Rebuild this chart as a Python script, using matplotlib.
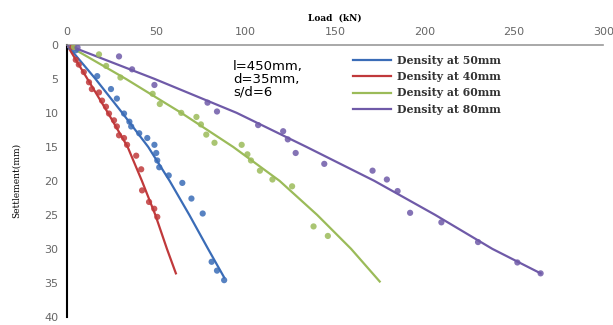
import numpy as np
import matplotlib.pyplot as plt

# Measured points (load kN, settlement mm)
load_50 = [0, 2, 5, 17, 24.7, 28, 32, 35, 36, 40.5, 45, 49, 50, 50.6, 51.7, 57, 64.6, 69.7, 76, 81, 84, 88]
sett_50 = [0, 0.3, 0.8, 4.6, 6.5, 7.9, 10.1, 11.3, 12, 13, 13.7, 14.7, 15.9, 17, 18, 19.2, 20.3, 22.6, 24.8, 31.9, 33.2, 34.6]

load_40 = [0, 3, 5, 6.7, 9.5, 12.4, 14, 18, 19.7, 21.9, 23.6, 26.4, 28, 29.2, 32, 33.7, 38.8, 41.6, 42.1, 46, 48.9, 50.6]
sett_40 = [0, 0.3, 2.2, 2.9, 4, 5.5, 6.5, 7, 8.2, 9.1, 10.1, 11.1, 12, 13.3, 13.7, 14.7, 16.3, 18.3, 21.4, 23.1, 24.1, 25.3]

load_60 = [0, 4, 18, 22, 30, 48, 52, 64, 72.5, 75, 78, 82.6, 97.8, 101, 103, 108, 115, 126, 138, 146]
sett_60 = [0, 0.3, 1.4, 3.1, 4.8, 7.2, 8.7, 10, 10.6, 11.7, 13.2, 14.4, 14.7, 16.1, 17, 18.5, 19.8, 20.8, 26.7, 28.1]

load_80 = [0, 6, 29.2, 36.5, 49, 78.7, 84, 107, 121, 123.6, 128, 144, 171, 179, 185, 192, 209.5, 230, 252, 265]
sett_80 = [0, 0.4, 1.7, 3.6, 5.9, 8.5, 9.8, 11.8, 12.7, 13.9, 15.9, 17.5, 18.5, 19.8, 21.5, 24.7, 26.1, 29, 32, 33.6]

# Trend lines
trend_50_x = [0, 16, 31, 45.5, 57.5, 68.5, 79, 88]
trend_50_y = [0, 5, 10, 15, 20, 25, 30, 34.2]
trend_40_x = [0, 11.5, 23, 34, 42, 49.5, 56, 61]
trend_40_y = [0, 5, 10, 15, 20, 25, 30, 33.6]
trend_60_x = [0, 33, 64, 93, 119, 140, 159, 175]
trend_60_y = [0, 5, 10, 15, 20, 25, 30, 34.8]
trend_80_x = [0, 49, 95, 134, 172, 206, 238, 265]
trend_80_y = [0, 5, 10, 15, 20, 25, 30, 33.6]

labels = ["Density at 50mm", "Density at 40mm", "Density at 60mm", "Density at 80mm"]
colors = ["#3a6cb7", "#c0393b", "#9bbb59", "#6f5aa8"]

x_ticks = [0, 50, 100, 150, 200, 250, 300]
y_ticks = [0, 5, 10, 15, 20, 25, 30, 35, 40]

fig = plt.figure(figsize=(6.13, 3.25), dpi=100)
ax = fig.add_axes([0.109, 0.025, 0.875, 0.837])

series = [
    (load_50, sett_50, trend_50_x, trend_50_y),
    (load_40, sett_40, trend_40_x, trend_40_y),
    (load_60, sett_60, trend_60_x, trend_60_y),
    (load_80, sett_80, trend_80_x, trend_80_y),
]
for (lx, ly, tx, ty), lab, col in zip(series, labels, colors):
    ax.scatter(lx, ly, s=20, color=col, alpha=0.85, edgecolors="none", zorder=3)
    ax.plot(tx, ty, color=col, lw=1.6, label=lab, zorder=2)

ax.set_xlim(0, 300)
ax.set_ylim(40, 0)
ax.set_xticks(x_ticks)
ax.set_yticks(y_ticks)
ax.xaxis.tick_top()
ax.xaxis.set_label_position("top")
ax.tick_params(length=0, labelsize=8, labelcolor="#666666", pad=6)

ax.spines["right"].set_visible(False)
ax.spines["bottom"].set_visible(False)
ax.spines["top"].set_color("#999999")
ax.spines["top"].set_linewidth(1.2)
ax.spines["left"].set_color("black")
ax.spines["left"].set_linewidth(1.5)

ax.set_xlabel("Load  (kN)", family="DejaVu Serif", fontweight="bold", fontsize=6.5, labelpad=4)
ax.set_ylabel("Settlement(mm)", family="DejaVu Serif", fontsize=6.5, labelpad=17)

ax.text(0.31, 0.945, "l=450mm,\nd=35mm,\ns/d=6", transform=ax.transAxes,
        fontsize=9.5, va="top", ha="left", linespacing=1.0)

leg = ax.legend(loc="upper left", bbox_to_anchor=(0.515, 1.0), frameon=False,
                prop={"family": "DejaVu Serif", "weight": "bold", "size": 7.8},
                handlelength=3.5, labelspacing=0.5, handletextpad=0.6)
for t in leg.get_texts():
    t.set_color("#333333")

fig.savefig("out.png", dpi=100)
